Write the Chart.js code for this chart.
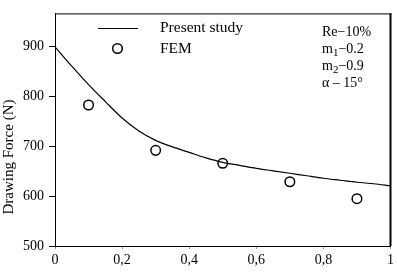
<!DOCTYPE html>
<html>
<head>
<meta charset="utf-8">
<script src="https://cdn.jsdelivr.net/npm/chart.js@4/dist/chart.umd.min.js"></script>
<style>
  html, body { margin: 0; padding: 0; background: #fff; }
  #wrap { width: 397px; height: 280px; position: relative; }
</style>
</head>
<body>
<div id="wrap"><canvas id="c" width="397" height="280"></canvas></div>
<script>
// ---- data ----
const curveX = [0, 0.05, 0.1, 0.15, 0.2, 0.25, 0.3, 0.35, 0.4, 0.45, 0.5, 0.55, 0.6, 0.65, 0.7, 0.75, 0.8, 0.85, 0.9, 0.95, 1.0];
const curveY = [900, 861, 824, 790, 757, 731, 712, 699, 688, 677, 668, 662, 656, 651, 646, 641, 636, 632, 628, 625, 621];
const femX = [0.1, 0.3, 0.5, 0.7, 0.9];
const femY = [783, 692, 666, 629, 595];
const yTicks = [500, 600, 700, 800, 900];
const xTickLabels = ['0', '0,2', '0,4', '0,6', '0,8', '1'];
const seriesNames = ['Present study', 'FEM'];
const notes = [['Re', '', '−10%'], ['m', '1', '−0.2'], ['m', '2', '−0.9'], ['α', '', ' – 15°']];
const yTitle = 'Drawing Force (N)';

const SERIF = '"Liberation Serif", "DejaVu Serif", serif';

const framePlugin = {
  id: 'frame',
  afterDraw(chart) {
    const ctx = chart.ctx, a = chart.chartArea;
    ctx.save();
    ctx.strokeStyle = '#000';
    // top border
    ctx.lineWidth = 1;
    ctx.beginPath(); ctx.moveTo(a.left, a.top + 0.5); ctx.lineTo(a.right + 1, a.top + 0.5); ctx.stroke();
    // right border (thicker)
    ctx.lineWidth = 2;
    ctx.beginPath(); ctx.moveTo(a.right, a.top); ctx.lineTo(a.right, a.bottom); ctx.stroke();

    // legend
    ctx.fillStyle = '#000';
    ctx.font = '15.5px ' + SERIF;
    ctx.textBaseline = 'middle';
    ctx.textAlign = 'left';
    ctx.lineWidth = 1.2;
    ctx.beginPath(); ctx.moveTo(98, 28.5); ctx.lineTo(138, 28.5); ctx.stroke();
    ctx.fillText(seriesNames[0], 160, 28);
    ctx.lineWidth = 1.5;
    ctx.beginPath(); ctx.arc(117.5, 48.5, 4.8, 0, Math.PI * 2); ctx.stroke();
    ctx.fillText(seriesNames[1], 160, 49);

    // annotations
    const ys = [32, 49.5, 66, 83];
    notes.forEach((n, i) => {
      let x = 322;
      ctx.font = '14px ' + SERIF;
      ctx.fillText(n[0], x, ys[i]);
      x += ctx.measureText(n[0]).width;
      if (n[1]) {
        ctx.font = '11px ' + SERIF;
        ctx.fillText(n[1], x, ys[i] + 4);
        x += ctx.measureText(n[1]).width;
      }
      ctx.font = '14px ' + SERIF;
      ctx.fillText(n[2], x, ys[i]);
    });

    // y title
    ctx.save();
    ctx.translate(9, 157);
    ctx.rotate(-Math.PI / 2);
    ctx.textAlign = 'center';
    ctx.font = '15px ' + SERIF;
    ctx.fillText(yTitle, 0, 0);
    ctx.restore();
    ctx.restore();
  }
};

new Chart(document.getElementById('c'), {
  data: {
    datasets: [
      {
        type: 'line',
        label: seriesNames[0],
        data: curveX.map((x, i) => ({ x, y: curveY[i] })),
        borderColor: '#000',
        borderWidth: 1.2,
        pointRadius: 0,
        fill: false,
        cubicInterpolationMode: 'monotone'
      },
      {
        type: 'scatter',
        label: seriesNames[1],
        data: femX.map((x, i) => ({ x, y: femY[i] })),
        borderColor: '#000',
        backgroundColor: 'rgba(0,0,0,0)',
        borderWidth: 1.5,
        pointRadius: 4.8,
        pointHoverRadius: 4.8,
        pointStyle: 'circle'
      }
    ]
  },
  options: {
    responsive: false,
    animation: false,
    events: [],
    layout: { padding: { top: 7, right: 5, left: 0, bottom: 0 } },
    plugins: { legend: { display: false }, tooltip: { enabled: false } },
    scales: {
      x: {
        type: 'linear',
        min: 0, max: 1,
        afterFit(s) { s.height = 34; },
        afterBuildTicks(s) { s.ticks = [0, 0.2, 0.4, 0.6, 0.8, 1].map(v => ({ value: v })); },
        ticks: {
          color: '#000',
          font: { family: SERIF, size: 14 },
          padding: 3,
          maxRotation: 0,
          callback(v) { return xTickLabels[Math.round(v * 5)]; }
        },
        grid: { drawOnChartArea: false, drawTicks: true, tickLength: 3, color: '#999' },
        border: { display: true, color: '#000', width: 1 }
      },
      y: {
        type: 'linear',
        min: 500, max: 967,
        afterFit(s) { s.width = 55; },
        afterBuildTicks(s) { s.ticks = yTicks.map(v => ({ value: v })); },
        ticks: {
          color: '#000',
          font: { family: SERIF, size: 14 },
          padding: 5,
          callback(v) { return String(v); }
        },
        grid: { drawOnChartArea: false, drawTicks: true, tickLength: 6, color: '#000' },
        border: { display: true, color: '#000', width: 1 }
      }
    }
  },
  plugins: [framePlugin]
});
</script>
</body>
</html>
